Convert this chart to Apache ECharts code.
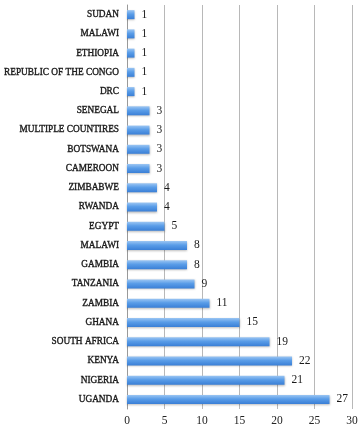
<!DOCTYPE html>
<html>
<head>
<meta charset="utf-8">
<script src="https://cdn.jsdelivr.net/npm/echarts@6/dist/echarts.min.js"></script>
<style>
  html, body { margin: 0; padding: 0; background: #fff; }
  #chart { width: 358px; height: 427px; }
</style>
</head>
<body>
<div id="chart"></div>
<script>
// bottom to top, as drawn on the category axis
const countries = [
  'UGANDA', 'NIGERIA', 'KENYA', 'SOUTH AFRICA', 'GHANA', 'ZAMBIA', 'TANZANIA',
  'GAMBIA', 'MALAWI', 'EGYPT', 'RWANDA', 'ZIMBABWE', 'CAMEROON', 'BOTSWANA',
  'MULTIPLE COUNTIRES', 'SENEGAL', 'DRC', 'REPUBLIC OF THE CONGO', 'ETHIOPIA',
  'MALAWI', 'SUDAN'
]
const counts = [27, 21, 22, 19, 15, 11, 9, 8, 8, 5, 4, 4, 3, 3, 3, 3, 1, 1, 1, 1, 1]
const xTicks = { min: 0, max: 30, interval: 5 }

const serif = '"Liberation Serif", "DejaVu Serif", serif'

const chart = echarts.init(document.getElementById('chart'))
chart.setOption({
  animation: false,
  grid: {
    left: 127, right: 6, top: 5, bottom: 18,
    containLabel: false,
    outerBoundsMode: 'none'
  },
  xAxis: {
    type: 'value',
    min: xTicks.min,
    max: xTicks.max,
    interval: xTicks.interval,
    axisLine: { show: false },
    axisTick: { show: false },
    axisLabel: { color: '#222', fontFamily: serif, fontSize: 11.5, margin: 6 },
    splitLine: { lineStyle: { color: '#b8b8b8', width: 1 } }
  },
  yAxis: {
    type: 'category',
    data: countries,
    axisLine: { lineStyle: { color: '#999' } },
    axisTick: { lineStyle: { color: '#999' }, length: 4 },
    axisLabel: {
      color: '#1a1a1a',
      fontFamily: serif,
      fontSize: 9.3,
      textBorderColor: '#1a1a1a',
      textBorderWidth: 0.35,
      margin: 8
    }
  },
  series: [{
    type: 'bar',
    data: counts,
    barWidth: 9,
    itemStyle: {
      color: new echarts.graphic.LinearGradient(0, 0, 0, 1, [
        { offset: 0, color: '#9cc6f3' },
        { offset: 0.45, color: '#5a9de8' },
        { offset: 1, color: '#3a7fd6' }
      ]),
      shadowColor: 'rgba(0,0,0,0.25)',
      shadowBlur: 2,
      shadowOffsetY: 1
    },
    label: {
      show: true,
      position: 'right',
      distance: 7,
      color: '#1a1a1a',
      fontFamily: serif,
      fontSize: 11.5
    }
  }]
})
</script>
</body>
</html>
